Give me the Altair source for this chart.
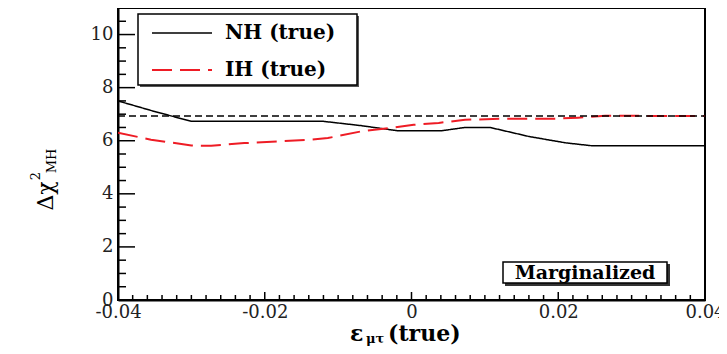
import altair as alt
import pandas as pd

# ---- data ----
series_names = ["NH (true)", "IH (true)"]
x_nh = [-0.04, -0.035, -0.030, -0.012, -0.0069, -0.002, 0.0042, 0.0073, 0.0107, 0.016, 0.021, 0.0246, 0.04]
y_nh = [7.50, 7.10, 6.73, 6.73, 6.57, 6.38, 6.38, 6.50, 6.50, 6.16, 5.92, 5.81, 5.81]
x_ih = [-0.04, -0.0355, -0.030, -0.0273, -0.0228, -0.0183, -0.0137, -0.0114, -0.0069, -0.0024,
        0.0003, 0.0037, 0.0073, 0.0128, 0.0196, 0.0227, 0.0264, 0.04]
y_ih = [6.30, 6.04, 5.82, 5.81, 5.91, 5.97, 6.04, 6.10, 6.35, 6.50,
        6.60, 6.67, 6.79, 6.83, 6.83, 6.87, 6.94, 6.93]
ref_level = [6.93]
x_major = [-0.04, -0.02, 0.0, 0.02, 0.04]
y_major = [0, 2, 4, 6, 8, 10]
x_minor = [round(-0.04 + 0.002 * i, 4) for i in range(41)]
y_minor = [0.5 * i for i in range(22)]
note_text = ["Marginalized"]

# ---- layout ----
W, H = 587, 292
RED = "#ee1c25"
SERIF = "DejaVu Serif"

xs = alt.Scale(domain=[-0.04, 0.04], nice=False, zero=False)
ys = alt.Scale(domain=[0, 11], nice=False, zero=True)

curves = pd.DataFrame({
    "x": x_nh + x_ih,
    "y": y_nh + y_ih,
    "series": [series_names[0]] * len(x_nh) + [series_names[1]] * len(x_ih),
})

x_axis = alt.Axis(values=x_major, labelExpr="datum.value == 0 ? '0' : (datum.value < 0 ? '-' : '') + format(abs(datum.value), '.2f')",
                  labelFont=SERIF, labelFontSize=18, labelColor="#222", ticks=False, grid=False,
                  domainColor="black", domainWidth=2, labelFlush=False, labelOverlap=False, labelPadding=3, title=None)
y_axis = alt.Axis(values=y_major, format="d", labelFont=SERIF, labelFontSize=18, labelColor="#222", ticks=False,
                  grid=False, domainColor="black", domainWidth=2, labelOverlap=False, labelPadding=5, title=None)

lines = alt.Chart(curves).mark_line(clip=True).encode(
    x=alt.X("x:Q", scale=xs, axis=x_axis),
    y=alt.Y("y:Q", scale=ys, axis=y_axis),
    color=alt.Color("series:N", scale=alt.Scale(domain=series_names, range=["#000000", RED]), legend=None),
    strokeDash=alt.StrokeDash("series:N", scale=alt.Scale(domain=series_names, range=[[1, 0], [20, 8]]), legend=None),
    strokeWidth=alt.StrokeWidth("series:N", scale=alt.Scale(domain=series_names, range=[1.5, 2.0]), legend=None),
    order=alt.Order("series:N", sort="ascending"),
)

ref = alt.Chart(pd.DataFrame({"v": ref_level})).mark_rule(color="black", strokeDash=[7, 4], strokeWidth=1.5).encode(
    y=alt.Y("v:Q", scale=ys, axis=y_axis), x=alt.value(0), x2=alt.value(W))

xmin_vals = [v for v in x_minor if all(abs(v - m) > 1e-9 for m in x_major)]
ymin_vals = [v for v in y_minor if all(abs(v - m) > 1e-9 for m in y_major)]

xmaj = alt.Chart(pd.DataFrame({"v": x_major})).mark_rule(color="black", strokeWidth=1.5).encode(
    x=alt.X("v:Q", scale=xs, axis=x_axis), y=alt.value(H), y2=alt.value(H - 8))
xmin = alt.Chart(pd.DataFrame({"v": xmin_vals})).mark_rule(color="black", strokeWidth=1.5).encode(
    x=alt.X("v:Q", scale=xs, axis=x_axis), y=alt.value(H), y2=alt.value(H - 5))
ymaj = alt.Chart(pd.DataFrame({"v": y_major})).mark_rule(color="black", strokeWidth=1.5).encode(
    y=alt.Y("v:Q", scale=ys, axis=y_axis), x=alt.value(0), x2=alt.value(17))
ymin = alt.Chart(pd.DataFrame({"v": ymin_vals})).mark_rule(color="black", strokeWidth=1.5).encode(
    y=alt.Y("v:Q", scale=ys, axis=y_axis), x=alt.value(0), x2=alt.value(8))

one = pd.DataFrame({"a": [0]})

# legend box
leg_shadow = alt.Chart(one).mark_rect(fill="#555").encode(
    x=alt.value(22), x2=alt.value(241), y=alt.value(8), y2=alt.value(79))
leg_box = alt.Chart(one).mark_rect(fill="white", stroke="black", strokeWidth=1.5).encode(
    x=alt.value(20), x2=alt.value(239), y=alt.value(6), y2=alt.value(77))
leg_layers = []
for i, (name, col, dash, yy) in enumerate(zip(series_names, ["#000000", RED], [[1, 0], [20, 8]], [25, 62])):
    d = pd.DataFrame({"series": [name]})
    leg_layers.append(alt.Chart(d).mark_rule(color=col, strokeDash=dash, strokeWidth=1.5 if i == 0 else 2).encode(
        x=alt.value(34), x2=alt.value(94), y=alt.value(yy)))
    leg_layers.append(alt.Chart(d).mark_text(font=SERIF, fontWeight="bold", fontSize=20, align="left",
                                             baseline="middle", color="black").encode(
        text="series:N", x=alt.value(107), y=alt.value(yy)))

# "Marginalized" box
note_df = pd.DataFrame({"t": note_text})
note_shadow = alt.Chart(note_df).mark_rect(fill="#333").encode(
    x=alt.value(387), x2=alt.value(552), y=alt.value(256), y2=alt.value(278))
note_box = alt.Chart(note_df).mark_rect(fill="white", stroke="black", strokeWidth=1.5).encode(
    x=alt.value(385), x2=alt.value(549), y=alt.value(254), y2=alt.value(275))
note_txt = alt.Chart(note_df).mark_text(font=SERIF, fontWeight="bold", fontSize=19, align="center",
                                        baseline="middle", color="black").encode(
    text="t:N", x=alt.value(467), y=alt.value(265))

# axis titles built from pieces (sub/superscripts)
def txt(s, x, y, size, weight="normal", angle=0, align="left", baseline="alphabetic"):
    kw = dict(font=SERIF, fontSize=size, fontWeight=weight, align=align, baseline=baseline, color="black")
    if angle:
        kw["angle"] = angle
    return alt.Chart(pd.DataFrame({"t": [s]})).mark_text(**kw).encode(
        text="t:N", x=alt.value(x), y=alt.value(y))

ytitle = [
    txt("Δχ", -72, 188, 22, angle=270, align="center", baseline="middle"),
    txt("2", -82, 168, 13, angle=270, align="center", baseline="middle"),
    txt("MH", -66, 153, 13, angle=270, align="center", baseline="middle"),
]
xtitle = [
    txt("ε", 232, 333, 22, weight="bold"),
    txt("μτ", 248, 335, 13, weight="bold"),
    txt("(true)", 270, 333, 22, weight="bold"),
]

chart = alt.layer(
    lines, ref, xmaj, xmin, ymaj, ymin,
    leg_shadow, leg_box, *leg_layers,
    note_shadow, note_box, note_txt,
    *ytitle, *xtitle,
).properties(
    width=W, height=H,
    autosize=alt.AutoSizeParams(type="none"),
    padding={"left": 110, "top": 0, "right": 14, "bottom": 46},
).configure_view(stroke="black", strokeWidth=2)

chart.save("out.html", embed_options={"renderer": "svg", "actions": False})
